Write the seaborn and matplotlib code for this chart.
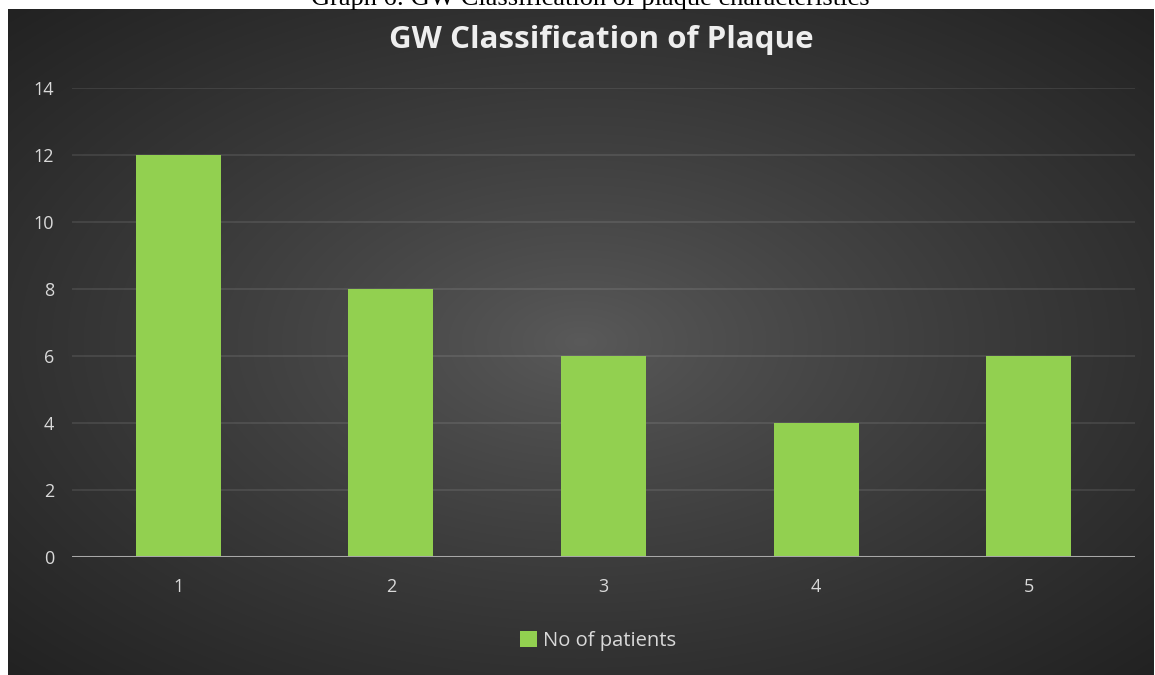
import numpy as np
import pandas as pd
import matplotlib
matplotlib.use("Agg")
import matplotlib.pyplot as plt
import seaborn as sns
from matplotlib.patches import Patch

# Chart data
categories = ["1", "2", "3", "4", "5"]
patients = [12, 8, 6, 4, 6]
series_name = "No of patients"
y_ticks = [0, 2, 4, 6, 8, 10, 12, 14]

df = pd.DataFrame({"GW class": categories, series_name: patients})

sns.set_theme(style="dark")
plt.rcParams["font.family"] = ["Open Sans", "DejaVu Sans"]

W, H = 1155, 675
fig = plt.figure(figsize=(W / 100, H / 100), dpi=100, facecolor="white")

# Dark chart panel with a soft radial gradient
bg_left, bg_right, bg_top = 8, 1154, 9
bg = fig.add_axes([bg_left / W, 0, (bg_right - bg_left) / W, (H - bg_top) / H])
bg.set_axis_off()
gw, gh = bg_right - bg_left, H - bg_top
xx, yy = np.meshgrid(np.linspace(-1, 1, gw), np.linspace(-1, 1, gh))
r = np.sqrt(xx ** 2 + yy ** 2) / np.sqrt(2)
r = np.clip(r, 0, 1)
c_center, c_edge = 0x5a / 255, 0x22 / 255
shade = c_center + (c_edge - c_center) * (r ** 0.85)
img = np.dstack([shade, shade, shade])
bg.imshow(img, aspect="auto", extent=[0, 1, 0, 1], interpolation="bilinear")
bg.set_xlim(0, 1)
bg.set_ylim(0, 1)

# Plot area
ax_l, ax_r, ax_t, ax_b = 72, 1135, 88, 557
ax = fig.add_axes([ax_l / W, (H - ax_b) / H, (ax_r - ax_l) / W, (ax_b - ax_t) / H])
ax.patch.set_alpha(0)

sns.barplot(data=df, x="GW class", y=series_name, color="#92D050",
            saturation=1, width=0.4, ax=ax, zorder=3,
            edgecolor="none", linewidth=0)

ax.set_ylim(0, 14)
ax.set_xlim(-0.5, 4.5)
ax.set_yticks(y_ticks)
ax.set_yticklabels([str(t) for t in y_ticks])
ax.set_xlabel("")
ax.set_ylabel("")
for s in ax.spines.values():
    s.set_visible(False)

ax.grid(False)
for t in y_ticks[1:]:
    ax.axhline(t, color="#ffffff", alpha=0.11, lw=1.2, zorder=1)
ax.axhline(0, color="#a8a8a8", lw=2.2, zorder=4)

ax.tick_params(axis="y", length=0, pad=13, labelsize=13, labelcolor="#d9d9d9")
ax.tick_params(axis="x", length=0, pad=15, labelsize=13, labelcolor="#d9d9d9")

# Title
fig.text(601 / W, (H - 40) / H, "GW Classification of Plaque", ha="center", va="center",
         fontsize=22.5, fontweight="bold", color="#eeeeee")

# Caption above the chart panel
fig.text(590 / W, (H - 5) / H, "Graph 6: GW Classification of plaque characteristics",
         ha="center", va="baseline", fontsize=19, color="black",
         family=["Liberation Serif", "DejaVu Serif"])

# Legend
handle = Patch(facecolor="#92D050", edgecolor="none", label=series_name)
fig.legend(handles=[handle], loc="center", bbox_to_anchor=(598 / W, (H - 641) / H),
           frameon=False, fontsize=14.5, labelcolor="#d9d9d9",
           handlelength=0.85, handleheight=0.85, handletextpad=0.25)

fig.savefig("out.png", dpi=100, facecolor=fig.get_facecolor())
